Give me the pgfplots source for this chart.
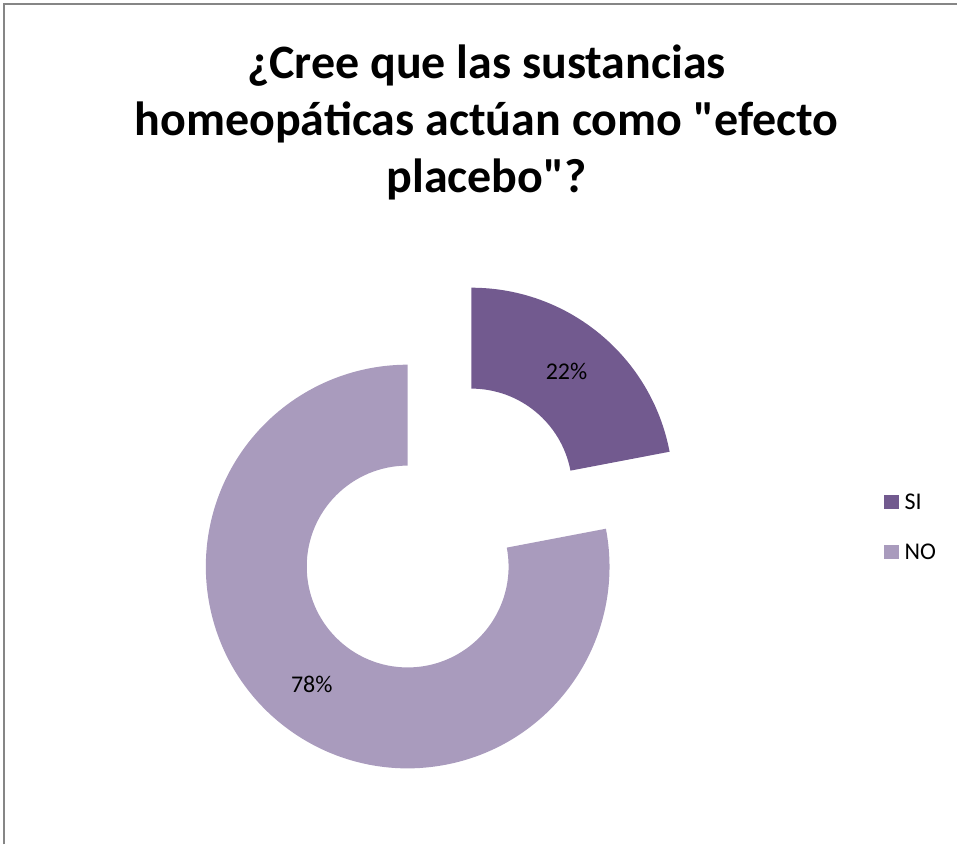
\documentclass[border=0pt]{standalone}
\usepackage{pgfplots}
\pgfplotsset{compat=1.18}
\usepackage{fontspec}
\setmainfont{Carlito}
\usetikzlibrary{calc}
\definecolor{siCol}{HTML}{725A8F}
\definecolor{noCol}{HTML}{A99BBD}
\definecolor{frameCol}{HTML}{868686}
% data (percent)
\def\vSI{22}
\def\vNO{78}
\begin{document}
\begin{tikzpicture}
\begin{axis}[
  width=479pt, height=422.5pt, scale only axis,
  xmin=0, xmax=958, ymin=0, ymax=845,
  hide axis, clip=false,
]
% frame
\draw[frameCol, line width=0.8pt] (axis cs:4,0) -- (axis cs:4,841) -- (axis cs:958,841);
% angles
\pgfmathsetmacro{\aStart}{90}
\pgfmathsetmacro{\aMid}{90-\vSI*3.6}
\pgfmathsetmacro{\aEnd}{90-360}
\pgfmathsetmacro{\aBis}{90-\vSI*1.8}
\pgfmathsetmacro{\cxSI}{408+100*cos(\aBis)}
\pgfmathsetmacro{\cySI}{278+100*sin(\aBis)}
% NO slice
\fill[noCol] ($(axis cs:408,278)+(\aMid:101pt)$) arc[start angle=\aMid, end angle=\aEnd, radius=101pt]
  -- ($(axis cs:408,278)+(\aEnd:50.5pt)$) arc[start angle=\aEnd, end angle=\aMid, radius=50.5pt] -- cycle;
% SI slice (exploded)
\fill[siCol] ($(axis cs:\cxSI,\cySI)+(\aStart:101pt)$) arc[start angle=\aStart, end angle=\aMid, radius=101pt]
  -- ($(axis cs:\cxSI,\cySI)+(\aMid:50.5pt)$) arc[start angle=\aMid, end angle=\aStart, radius=50.5pt] -- cycle;
% data labels
\node[font=\fontsize{12}{14}\selectfont] at (axis cs:567,473) {\vSI\%};
\node[font=\fontsize{12}{14}\selectfont] at (axis cs:312,160) {\vNO\%};
% title
\node[font=\fontsize{24}{28.5}\selectfont\bfseries, align=center] at (axis cs:487,722)
  {¿Cree que las sustancias\\homeopáticas actúan como \textquotedbl efecto\\placebo\textquotedbl ?};
% legend
\fill[siCol] (axis cs:885,336) rectangle (axis cs:900,350);
\fill[noCol] (axis cs:885,286) rectangle (axis cs:900,300);
\node[anchor=west, font=\fontsize{12}{14}\selectfont, inner sep=0pt] at (axis cs:905,343) {SI};
\node[anchor=west, font=\fontsize{12}{14}\selectfont, inner sep=0pt] at (axis cs:905,293) {NO};
\end{axis}
\path[use as bounding box] (0,0) rectangle (479pt,422.5pt);
\end{tikzpicture}
\end{document}
